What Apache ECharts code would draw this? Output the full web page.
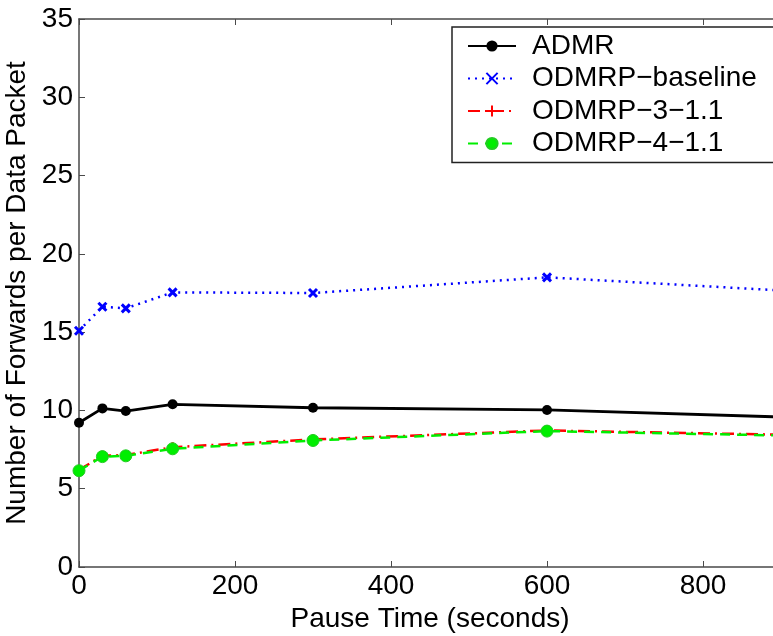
<!DOCTYPE html>
<html>
<head>
<meta charset="utf-8">
<script src="https://cdn.jsdelivr.net/npm/echarts@6/dist/echarts.min.js"></script>
<style>html,body{margin:0;padding:0;background:#fff;}#c{width:773px;height:636px;}</style>
</head>
<body>
<div id="c"></div>
<script>
var pauseTimes = [0, 30, 60, 120, 300, 600, 900];
var admr = [9.21, 10.13, 9.96, 10.39, 10.17, 10.03, 9.58];
var odmrpBaseline = [15.09, 16.62, 16.52, 17.54, 17.50, 18.50, 17.66];
var odmrp3 = [6.2, 7.1, 7.15, 7.65, 8.15, 8.72, 8.45];
var odmrp4 = [6.15, 7.05, 7.1, 7.55, 8.08, 8.68, 8.40];
var seriesNames = ['ADMR', 'ODMRP\u2212baseline', 'ODMRP\u22123\u22121.1', 'ODMRP\u22124\u22121.1'];

function pairs(vals) { return pauseTimes.map(function (t, i) { return [t, vals[i]]; }); }

var FONT = 'Arial, "Liberation Sans", Helvetica, sans-serif';
var FS = 28;
var axisCol = '#4a4a4a';
var chart = echarts.init(document.getElementById('c'));
chart.setOption({
  backgroundColor: '#fff',
  animation: false,
  grid: { left: 79, top: 19, bottom: 69, right: -8, containLabel: false, outerBoundsMode: 'none' },
  legend: {
    orient: 'vertical', left: 452, top: 27,
    padding: [5, 40, 5, 15], itemGap: 4.5, itemWidth: 48, itemHeight: 14,
    borderColor: '#222', borderWidth: 1.5, backgroundColor: '#fff',
    textStyle: { fontFamily: FONT, fontSize: FS, color: '#000', padding: [0, 0, 0, 11] },
    data: seriesNames
  },
  xAxis: [{
    type: 'value', min: 0, max: 900, interval: 200, position: 'bottom',
    name: 'Pause Time (seconds)', nameLocation: 'middle', nameGap: 30,
    nameTextStyle: { fontFamily: FONT, fontSize: FS, color: '#000' },
    axisLine: { show: true, onZero: false, lineStyle: { color: axisCol, width: 1.5 } },
    axisTick: { show: true, inside: true, length: 6, lineStyle: { color: axisCol } },
    axisLabel: { fontFamily: FONT, fontSize: FS, color: '#000', margin: 5, showMaxLabel: false },
    splitLine: { show: false }
  }, {
    type: 'value', min: 0, max: 900, interval: 200, position: 'top',
    axisLine: { show: true, onZero: false, lineStyle: { color: axisCol, width: 1.5 } },
    axisTick: { show: true, inside: true, length: 6, lineStyle: { color: axisCol } },
    axisLabel: { show: false },
    splitLine: { show: false }
  }],
  yAxis: {
    type: 'value', min: 0, max: 35, interval: 5,
    name: 'Number of Forwards per Data Packet', nameLocation: 'middle', nameGap: 33,
    nameTextStyle: { fontFamily: FONT, fontSize: FS, color: '#000' },
    axisLine: { show: true, lineStyle: { color: axisCol, width: 1.5 } },
    axisTick: { show: true, inside: true, length: 6, lineStyle: { color: axisCol } },
    axisLabel: { fontFamily: FONT, fontSize: FS, color: '#000', margin: 6 },
    splitLine: { show: false }
  },
  series: [{
    name: seriesNames[0], type: 'line', data: pairs(admr),
    symbol: 'circle', symbolSize: 10,
    lineStyle: { color: '#000', width: 2.8, type: 'solid' },
    itemStyle: { color: '#000' }
  }, {
    name: seriesNames[1], type: 'line', data: pairs(odmrpBaseline),
    symbol: 'path://M0,0L10,10M10,0L0,10', symbolSize: 8,
    lineStyle: { color: '#0000ff', width: 2.5, type: [2, 5] },
    itemStyle: { color: '#0000ff', borderColor: '#0000ff', borderWidth: 3 }
  }, {
    name: seriesNames[2], type: 'line', data: pairs(odmrp3),
    symbol: 'path://M5,0L5,10M0,5L10,5', symbolSize: 10,
    lineStyle: { color: '#ff0000', width: 2.5, type: [12, 5, 2, 5] },
    itemStyle: { color: '#ff0000', borderColor: '#ff0000', borderWidth: 2.5 }
  }, {
    name: seriesNames[3], type: 'line', data: pairs(odmrp4),
    symbol: 'circle', symbolSize: 12,
    lineStyle: { color: '#00ee00', width: 2.5, type: [10, 7] },
    itemStyle: { color: '#00ee00', borderColor: '#22cc22', borderWidth: 1 }
  }]
});
</script>
</body>
</html>
